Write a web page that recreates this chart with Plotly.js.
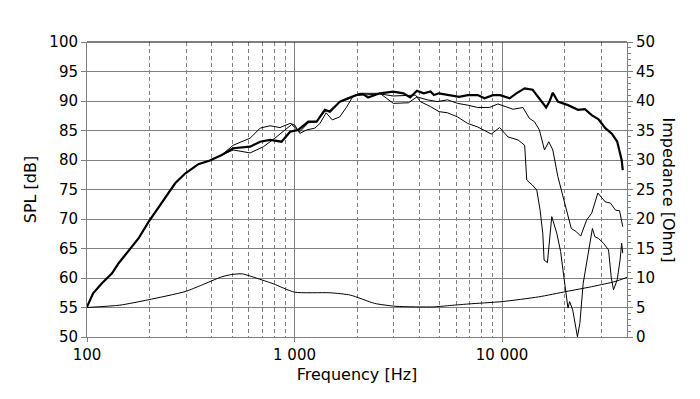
<!DOCTYPE html>
<html>
<head>
<meta charset="utf-8">
<script src="https://cdn.plot.ly/plotly-3.0.1.min.js"></script>
<style>html,body{margin:0;padding:0;background:#fff;}#chart{width:700px;height:399px;}</style>
</head>
<body>
<div id="chart"></div>
<script>
// ---- data ----
const freqMain = [100,107,118,132,142,161,177,198,217,233,266,297,344,391,446,506,611,683,762,866,952,1042,1165,1278,1400,1481,1655,1810,1985,2133,2261,2578,2993,3350,3606,3889,4193,4522,4693,4968,5558,6217,6827,7636,8233,9036,9800,10880,11720,12850,14040,15130,16310,16920,17560,18570,20780,23250,25070,27040,29160,31440,33910,35890,37040,37700,38160];
const splMain  = [55.1,57.4,59.1,60.8,62.5,65.0,66.7,69.5,71.5,73.2,76.05,77.7,79.3,79.9,80.85,82.0,82.25,83.1,83.4,83.1,84.8,85.1,86.5,86.5,88.5,88.2,89.9,90.45,91.0,91.2,90.6,91.3,91.6,91.3,90.6,91.75,91.3,91.6,91.0,91.3,91.0,90.7,91.0,91.0,90.45,91.0,91.0,90.45,91.3,92.15,91.9,90.45,88.9,89.9,91.4,89.9,89.3,88.5,88.6,87.6,86.9,85.4,84.4,83.1,81.4,80.0,78.3];

const freqA = [100,107,118,132,142,161,177,198,217,233,266,297,344,391,446,506,611,683,762,851,952,1004,1061,1142,1253,1326,1420,1520,1650,1777,1914,2063,2578,2779,2993,3540,3889,4354,4877,5459,6104,6827,7636,8697,9550,11300,12610,13540,14320,15130,16010,16800,17560,18570,19400,20120,21550,22800,23930,25550,27040,28940,29700,31440,33270,35220,36830,38160];
const splA  = [55.1,57.4,59.1,60.8,62.5,65.0,66.7,69.5,71.5,73.2,76.05,77.7,79.3,79.9,80.85,82.5,83.7,85.4,85.8,85.5,86.2,85.9,84.5,85.1,85.4,86.2,88.0,86.8,87.3,88.9,90.8,91.3,91.3,90.45,89.6,89.7,90.7,90.2,89.9,90.2,89.6,89.3,88.9,88.9,89.5,88.6,88.9,87.05,86.5,85.1,81.7,83.1,81.7,77.2,74.6,72.7,68.4,67.85,67.1,69.8,71.0,74.4,73.9,72.9,72.7,71.5,71.4,68.7];

const freqB = [100,107,118,132,142,161,177,198,217,233,266,297,344,391,446,506,611,708,804,915,968,1061,1165,1278,1400,1481,1655,1810,1985,2133,2578,2993,3350,3830,4036,4522,4968,5459,6104,6827,7636,8385,8866,9730,10690,11940,12850,13150,13950,14700,15250,15710,15940,16540,16900,17360,18350,19150,19850,20780,21160,21900,23080,23700,24600,26000,27250,28000,29160,30800,32600,33600,34450,35890,37040,37700,38160];
const splB  = [55.1,57.4,59.1,60.8,62.5,65.0,66.7,69.5,71.5,73.2,76.05,77.7,79.3,79.9,80.85,81.7,81.2,82.25,83.7,85.4,86.0,84.8,86.3,86.5,88.3,88.4,89.8,90.3,91.0,91.0,91.2,90.85,90.9,91.0,89.9,89.05,88.2,88.0,87.3,86.2,85.6,84.8,84.4,85.5,83.9,83.4,82.5,76.6,75.8,74.9,71.5,67.6,63.05,62.6,66.4,70.4,67.6,64.5,60.2,54.9,56.0,54.6,50.05,52.3,59.1,64.2,68.4,67.0,66.7,65.9,64.75,60.0,58.0,59.7,63.05,65.9,64.2];

const freqImp = [100,144,197,297,357,446,499,560,653,793,1000,1480,1860,2430,3080,4690,5460,6880,10000,15000,20330,27700,35000,40000];
const impOhm  = [5.0,5.4,6.3,7.7,8.8,10.2,10.6,10.7,10.0,9.0,7.6,7.5,7.1,5.7,5.2,5.1,5.3,5.6,6.0,6.8,7.7,8.6,9.4,10.1];

const majorTicks = [100,1000,10000];
const majorText = ['100','1 000','10 000'];
const minorTicks = [200,300,400,500,600,700,800,900,2000,3000,4000,5000,6000,7000,8000,9000,20000,30000];
const splTicks = [50,55,60,65,70,75,80,85,90,95,100];
const impTicks = [0,5,10,15,20,25,30,35,40,45,50];

const FONT = 'DejaVu Sans, Verdana, sans-serif';
const GRID = '#808080';

const traces = [
  {x: freqImp, y: impOhm, yaxis: 'y2', mode: 'lines', line: {color: '#000', width: 1, shape: 'spline', smoothing: 0.6}, hoverinfo: 'skip'},
  {x: freqA, y: splA, mode: 'lines', line: {color: '#000', width: 1}},
  {x: freqB, y: splB, mode: 'lines', line: {color: '#000', width: 1}},
  {x: freqMain, y: splMain, mode: 'lines', line: {color: '#000', width: 2.2}}
];

const layout = {
  width: 700, height: 399,
  margin: {l: 87, r: 73, t: 42, b: 62},
  paper_bgcolor: '#fff', plot_bgcolor: '#fff',
  showlegend: false,
  font: {family: FONT, size: 15, color: '#000'},
  xaxis: {
    type: 'log', range: [2, Math.log10(40000)],
    tickmode: 'array', tickvals: majorTicks, ticktext: majorText,
    showgrid: true, gridcolor: GRID, gridwidth: 1,
    ticks: 'outside', ticklen: 4, tickcolor: GRID,
    showline: true, linecolor: GRID, linewidth: 1,
    zeroline: false,
    tickfont: {family: FONT, size: 15, color: '#000'},
    title: {text: 'Frequency [Hz]', font: {family: FONT, size: 16, color: '#000'}, standoff: 5},
    minor: {tickmode: 'array', tickvals: minorTicks, showgrid: true, gridcolor: GRID, gridwidth: 1, griddash: '4px,3px', ticks: ''}
  },
  yaxis: {
    range: [50, 100], tickmode: 'array', tickvals: splTicks,
    showgrid: true, gridcolor: GRID, gridwidth: 1,
    ticks: 'outside', ticklen: 5, tickcolor: GRID,
    showline: true, linecolor: GRID, linewidth: 1, zeroline: false,
    tickfont: {family: FONT, size: 15, color: '#000'},
    title: {text: 'SPL [dB]', font: {family: FONT, size: 16, color: '#000'}, standoff: 8}
  },
  yaxis2: {
    overlaying: 'y', side: 'right', range: [0, 50],
    tickmode: 'array', tickvals: impTicks,
    showgrid: false, zeroline: false,
    ticks: 'outside', ticklen: 5, tickcolor: GRID,
    showline: true, linecolor: GRID, linewidth: 1,
    tickfont: {family: FONT, size: 15, color: '#000'},
    minor: {dtick: 1, ticks: 'outside', ticklen: 3, tickcolor: GRID, showgrid: false}
  },
  shapes: [
    {type: 'line', xref: 'paper', yref: 'paper', x0: 0, x1: 1, y0: 1, y1: 1, line: {color: '#000', width: 1}}
  ],
  annotations: [
    {text: 'Impedance [Ohm]', xref: 'paper', yref: 'paper', x: 1, xshift: 41, y: 0.5, textangle: 90,
     showarrow: false, xanchor: 'center', yanchor: 'middle', font: {family: FONT, size: 16, color: '#000'}}
  ]
};

Plotly.newPlot('chart', traces, layout, {staticPlot: true, displayModeBar: false});
</script>
</body>
</html>
